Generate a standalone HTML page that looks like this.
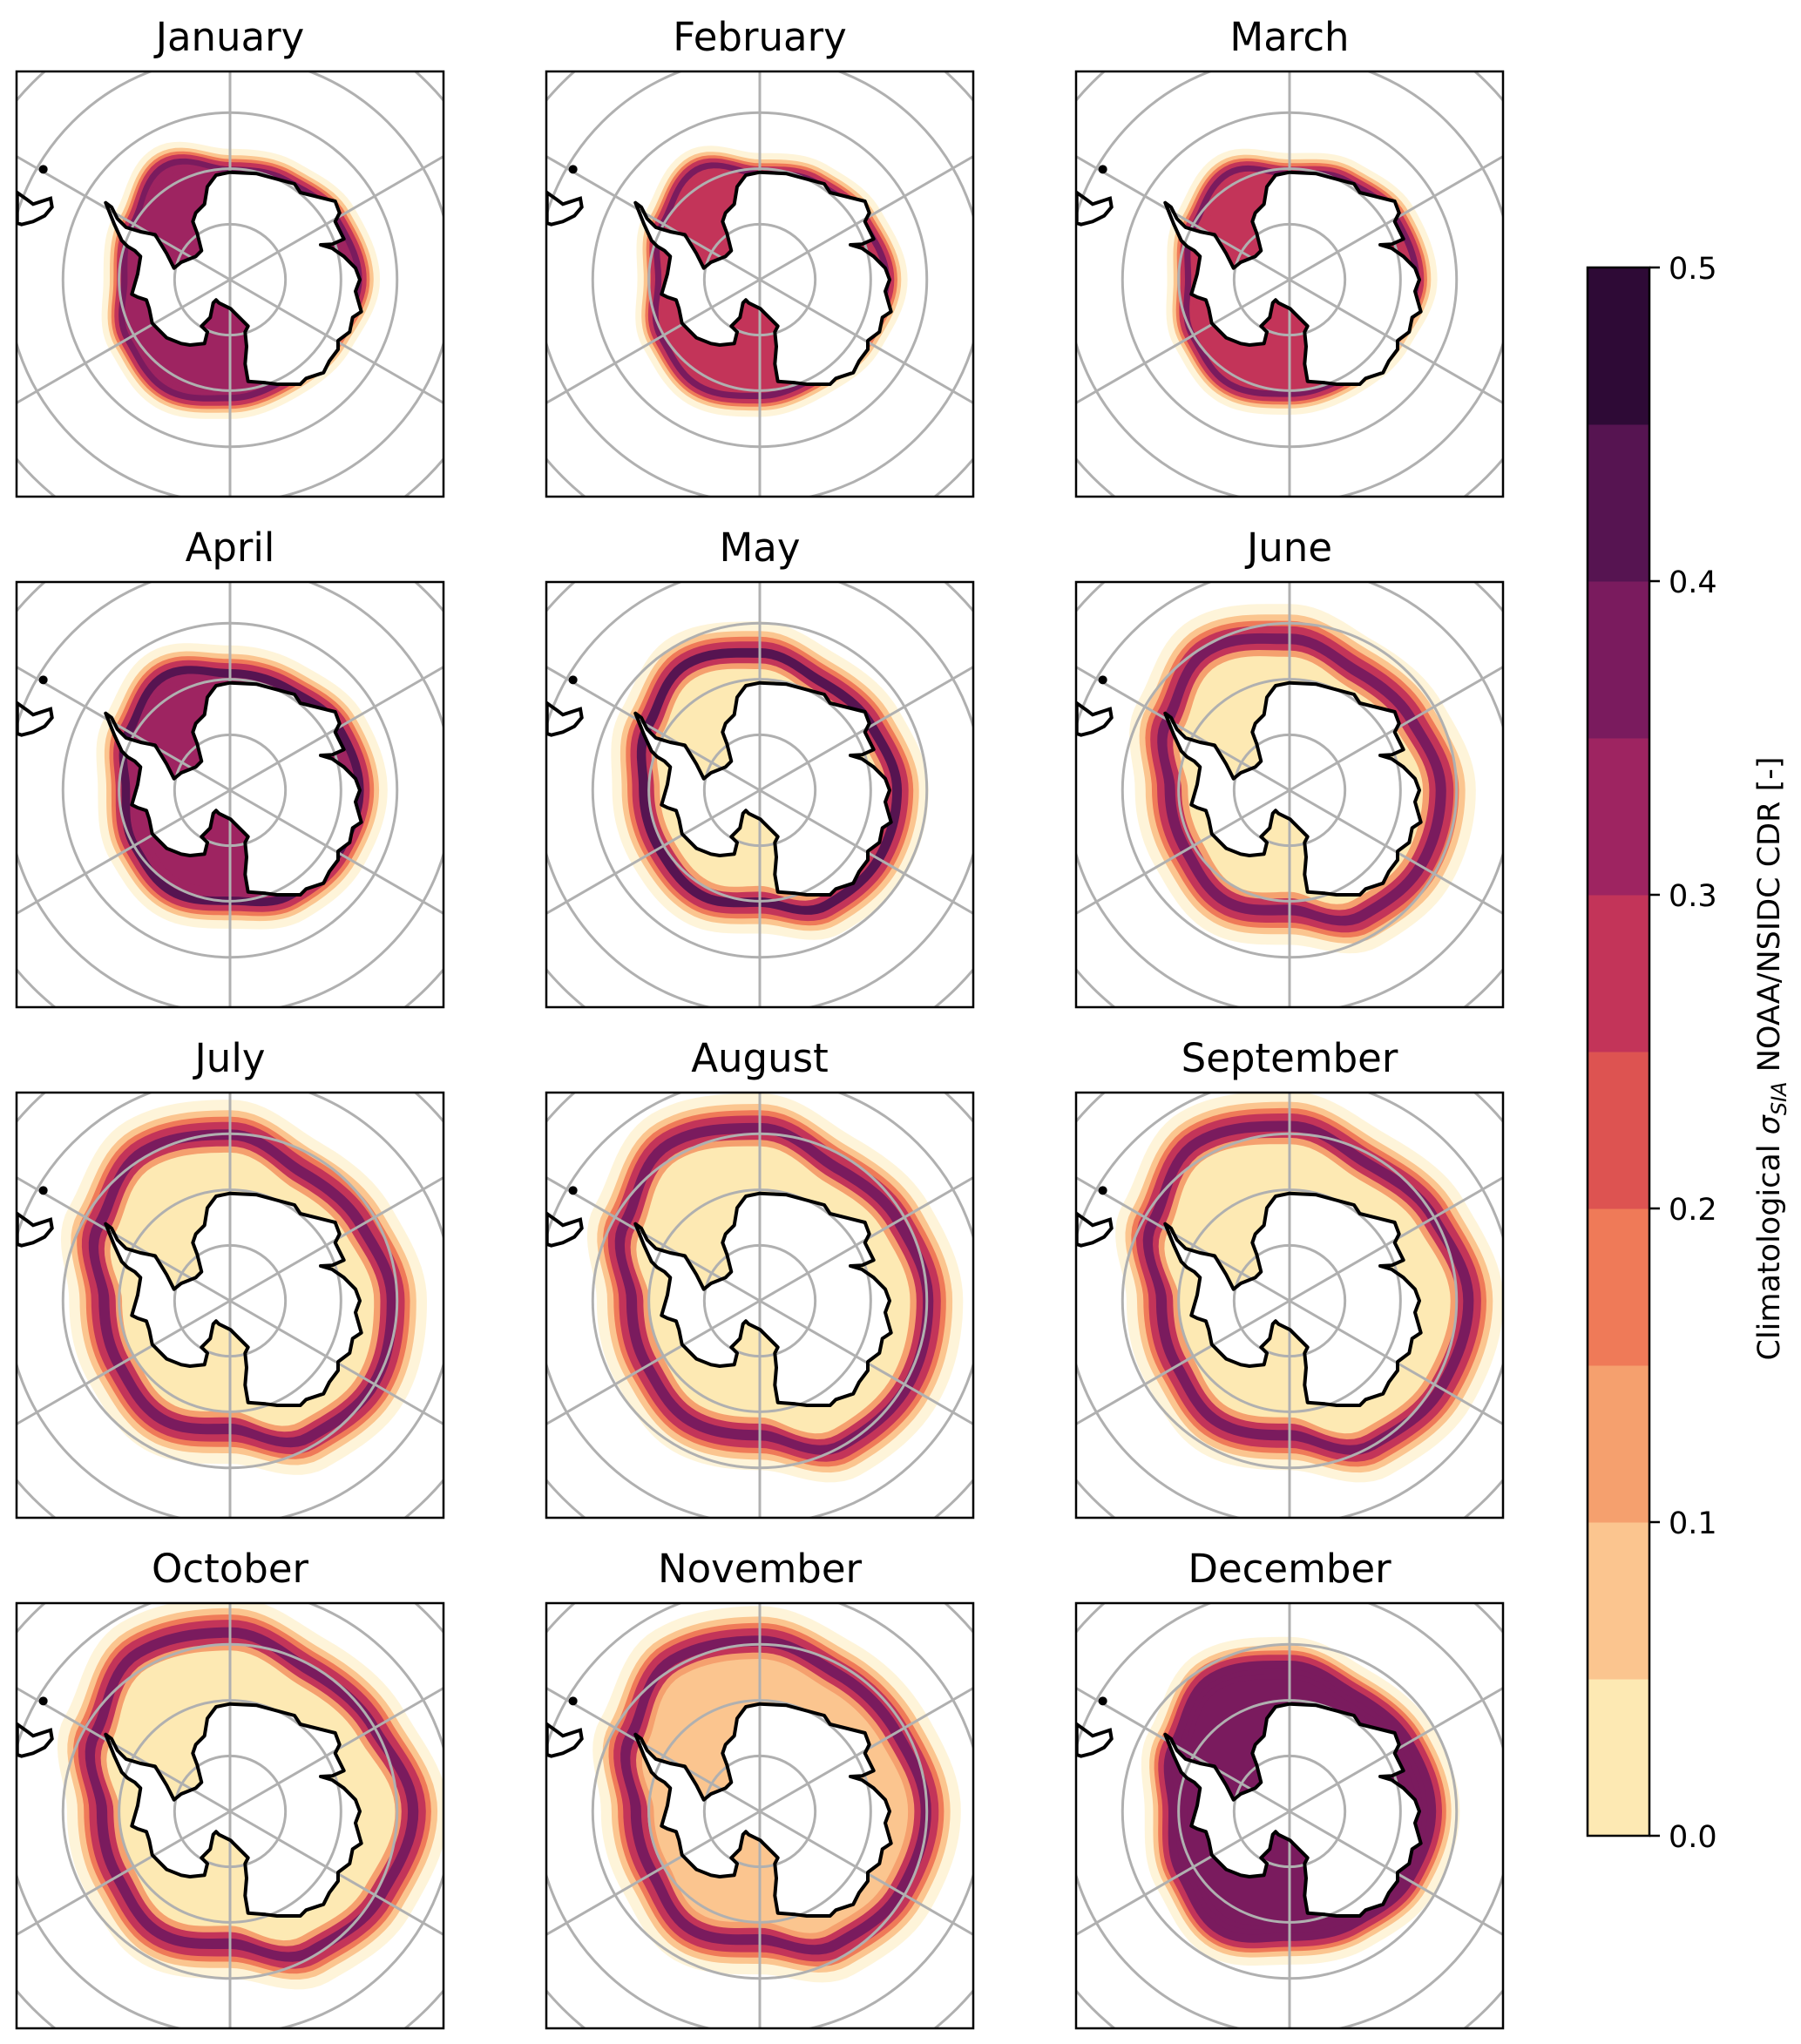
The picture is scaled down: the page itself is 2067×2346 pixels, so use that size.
<!DOCTYPE html>
<html><head><meta charset="utf-8">
<style>
html,body{margin:0;padding:0;background:#fff;overflow:hidden;}
body{width:2067px;height:2346px;position:relative;overflow:hidden;font-family:"DejaVu Sans","Liberation Sans",sans-serif;}
svg{position:absolute;left:0;top:0;display:block;}
</style></head>
<body>
<svg id="fig" width="2067" height="2346" viewBox="0 0 2067 2346" xmlns="http://www.w3.org/2000/svg" font-family="DejaVu Sans, Liberation Sans, sans-serif">
  <g id="panels"></g>
  <g id="cbar"></g>
</svg>
<script>
// ---- data ----
const months = ["January","February","March","April","May","June","July","August","September","October","November","December"];
const levelColors = ["#fde9b3","#fbc58f","#f5a06e","#ef7a58","#dd5351","#c33459","#9e2461","#7a1b5e","#561451","#2e0a36"];
const cbarTicks = [0.0,0.1,0.2,0.3,0.4,0.5];
// ice-edge radius (fraction of panel half-width) at screen angles 0,30,...,330 deg
const edgeJan = [0.63,0.58,0.56,0.58,0.62,0.58,0.52,0.55,0.64,0.54,0.56,0.60];
const edgeFeb = [0.62,0.58,0.55,0.57,0.60,0.56,0.50,0.55,0.62,0.52,0.55,0.58];
const edgeMar = [0.62,0.57,0.55,0.56,0.59,0.55,0.50,0.54,0.60,0.52,0.56,0.60];
const edgeApr = [0.64,0.62,0.60,0.55,0.58,0.55,0.52,0.58,0.65,0.58,0.58,0.62];
const edgeMay = [0.68,0.68,0.66,0.56,0.60,0.58,0.58,0.64,0.72,0.68,0.62,0.64];
const edgeJun = [0.75,0.75,0.72,0.60,0.64,0.60,0.60,0.70,0.80,0.75,0.68,0.70];
const edgeJul = [0.80,0.82,0.78,0.64,0.68,0.64,0.63,0.75,0.85,0.82,0.73,0.75];
const edgeAug = [0.83,0.84,0.82,0.67,0.69,0.65,0.64,0.77,0.89,0.85,0.76,0.79];
const edgeSep = [0.88,0.86,0.82,0.67,0.70,0.65,0.64,0.78,0.90,0.86,0.78,0.82];
const edgeOct = [0.90,0.85,0.80,0.66,0.70,0.65,0.64,0.77,0.90,0.88,0.80,0.82];
const edgeNov = [0.82,0.80,0.76,0.64,0.68,0.62,0.62,0.74,0.86,0.84,0.78,0.78];
const edgeDec = [0.70,0.68,0.64,0.62,0.68,0.62,0.58,0.66,0.76,0.72,0.66,0.68];
const peakLevel = [7,7,7,8,8,7,7,7,7,7,7,7];
const innerLevel = [6,5,5,6,0,0,0,0,0,0,1,7];
const bandWidth = [0.6,0.6,0.6,0.8,0.9,1,1,1,1,1,1,0.8];
const edges = [edgeJan,edgeFeb,edgeMar,edgeApr,edgeMay,edgeJun,edgeJul,edgeAug,edgeSep,edgeOct,edgeNov,edgeDec];

// ---- geometry ----
const NS="http://www.w3.org/2000/svg";
const colX=[19,627,1235], rowY=[82,668,1254,1840], PW=490, PH=488, R=243;
const coast=[[738,350],[830,355],[960,390],[980,420],[1100,450],[1115,490],[1100,520],[1130,580],[1090,598],[1050,600],[1090,612],[1130,640],[1170,680],[1185,720],[1170,760],[1190,830],[1160,850],[1150,900],[1110,930],[1110,960],[1080,1000],[1060,1040],[1000,1060],[980,1080],[900,1080],[860,1075],[800,1070],[790,1010],[795,950],[790,900],[800,880],[750,830],[740,820],[700,800],[690,790],[680,800],[670,850],[640,880],[660,900],[650,940],[600,945],[570,940],[520,920],[490,890],[470,870],[460,820],[450,790],[420,780],[400,770],[420,700],[430,640],[410,620],[385,605],[365,585],[340,530],[310,455],[330,470],[350,510],[380,540],[430,555],[480,565],[520,630],[545,680],[570,660],[620,640],[640,620],[625,560],[610,520],[620,490],[650,460],[660,400],[690,360]];
const samer=[[5,420],[40,445],[60,460],[90,450],[120,440],[125,470],[100,500],[60,520],[20,530],[5,525]];

function el(tag,attrs,parent){const e=document.createElementNS(NS,tag);for(const k in attrs)e.setAttribute(k,attrs[k]);if(parent)parent.appendChild(e);return e;}
function ptsPath(pts,cx,cy){return "M"+pts.map(p=>((p[0]-738)/729*R+cx).toFixed(1)+","+((p[1]-720)/729*R+cy).toFixed(1)).join("L")+"Z";}
function radiusAt(arr,deg){const s=((deg%360)+360)%360/30;const i=Math.floor(s)%12,j=(i+1)%12,f=s-Math.floor(s);const w=(1-Math.cos(Math.PI*f))/2;return arr[i]*(1-w)+arr[j]*w;}
function ringPath(arr,off,cx,cy){let d="";for(let k=0;k<144;k++){const a=k*2.5;const r=(radiusAt(arr,a)+off)*R;const x=cx+r*Math.cos(a*Math.PI/180),y=cy+r*Math.sin(a*Math.PI/180);d+=(k?"L":"M")+x.toFixed(1)+","+y.toFixed(1);}return d+"Z";}

const panels=document.getElementById("panels");
months.forEach((m,i)=>{
  const px=colX[i%3], py=rowY[Math.floor(i/3)], cx=px+245, cy=py+239;
  const g=el("g",{},panels);
  
  
  const t=el("text",{x:px+PW/2,y:py-24,"text-anchor":"middle","font-size":"45",fill:"#000"},g);
  t.textContent=m;
  
  
  el("clipPath",{id:"clip"+i},g).appendChild(el("rect",{x:px,y:py,width:PW,height:PH}));
  const body=el("g",{"clip-path":"url(#clip"+i+")"},g);
  const ice=el("g",{},body);
  
  
  const pk=peakLevel[i], inn=innerLevel[i], w=bandWidth[i];
  const bands=[[0.13,0,0.5],[0.08,1,1],[0.05,3,1],[0.025,5,1],[-0.01,pk,1],[-0.06,Math.max(inn,5),1],[-0.09,Math.max(inn,2),1],[-0.12,inn,1]];
  bands.forEach(b=>{
    const p=el("path",{d:ringPath(edges[i],b[0]*w,cx,cy),fill:levelColors[b[1]],"fill-opacity":b[2]},ice);
    
    
  });
  const land=el("path",{d:ptsPath(coast,cx,cy),fill:"#fff"},body);
  
  
  el("path",{d:ptsPath(samer,cx,cy),fill:"#fff"},body);
  const grid=el("g",{stroke:"#b0b0b0","stroke-width":"3",fill:"none"},body);
  
  
  [0.262,0.524,0.789,1.053,1.317].forEach(f=>el("circle",{cx:cx,cy:cy,r:f*R},grid));
  [30,90,150,210,270,330].forEach(a=>{const r=R*1.5;el("line",{x1:cx,y1:cy,x2:cx+r*Math.cos(a*Math.PI/180),y2:cy+r*Math.sin(a*Math.PI/180)},grid);});
  const cl=el("path",{d:ptsPath(coast,cx,cy),fill:"none",stroke:"#000","stroke-width":"4","stroke-linejoin":"round"},body);
  
  
  el("path",{d:ptsPath(samer,cx,cy),fill:"none",stroke:"#000","stroke-width":"4"},body);
  el("circle",{cx:cx+(95-738)/729*R,cy:cy+(340-720)/729*R,r:5,fill:"#000"},body);
  const fr=el("rect",{x:px,y:py,width:PW,height:PH,fill:"none",stroke:"#000","stroke-width":"2.5"},g);
  
  
});

// ---- colorbar ----
const cb=document.getElementById("cbar");
const cbX=1822, cbW=71, cbTop=307, cbBot=2107;
function cbY(v){return cbBot-(v-0)/(0.5-0)*(cbBot-cbTop);}
levelColors.forEach((c,k)=>{
  const r=el("rect",{x:cbX,y:cbY((k+1)*0.05),width:cbW,height:cbY(k*0.05)-cbY((k+1)*0.05)+0.5,fill:c},cb);
  
  
});
el("rect",{x:cbX,y:cbTop,width:cbW,height:cbBot-cbTop,fill:"none",stroke:"#000","stroke-width":"2.5"},cb);
cbarTicks.forEach(v=>{
  el("line",{x1:cbX+cbW,x2:cbX+cbW+12,y1:cbY(v),y2:cbY(v),stroke:"#000","stroke-width":"2.5"},cb);
  const t=el("text",{x:cbX+cbW+22,y:cbY(v)+13,"font-size":"35",fill:"#000"},cb);
  t.textContent=v.toFixed(1);
  
  
});
const lab=el("text",{x:0,y:0,"font-size":"35",fill:"#000","text-anchor":"middle",transform:"translate(2042,1215) rotate(-90)"},cb);
lab.innerHTML='Climatological <tspan font-style="italic">σ</tspan><tspan font-size="24" font-style="italic" dy="8">SIA</tspan><tspan dy="-8"> NOAA/NSIDC CDR [-]</tspan>';


</script>
</body></html>
